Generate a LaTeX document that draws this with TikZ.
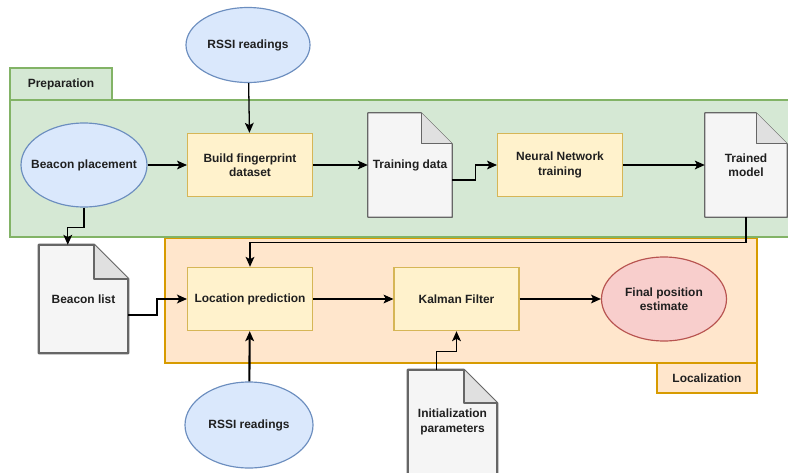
\documentclass[tikz,border=0pt]{standalone}
\usepackage{fontspec}
\setmainfont{Liberation Sans}
\usepackage{tikz}
\usetikzlibrary{shapes.geometric, arrows.meta, positioning, backgrounds}
\definecolor{prepfill}{RGB}{213, 232, 212}
\definecolor{prepline}{RGB}{130, 179, 102}
\definecolor{locfill}{RGB}{255, 230, 204}
\definecolor{locline}{RGB}{215, 155, 0}
\definecolor{procfill}{RGB}{255, 242, 204}
\definecolor{procline}{RGB}{214, 182, 86}
\definecolor{inputfill}{RGB}{218, 232, 252}
\definecolor{inputline}{RGB}{108, 142, 191}
\definecolor{resultfill}{RGB}{248, 206, 204}
\definecolor{resultline}{RGB}{184, 84, 80}
\definecolor{docfill}{RGB}{245, 245, 245}
\definecolor{docline}{RGB}{102, 102, 102}
\definecolor{foldfill}{RGB}{224, 224, 224}
\pgfdeclarelayer{docs}
\pgfsetlayers{background,docs,main}
% outline of a document node: name, fold size, line width
\newcommand{\docoutline}[3]{%
    \begin{pgfonlayer}{docs}
    \filldraw[fill=docfill, draw=docline, line width=#3, line join=round]
        (#1.north west) -- ([xshift=-#2]#1.north east) -- ([yshift=-#2]#1.north east)
        -- (#1.south east) -- (#1.south west) -- cycle;
    \filldraw[fill=foldfill, draw=docline, line width=#3, line join=round]
        ([xshift=-#2]#1.north east) -- ([xshift=-#2,yshift=-#2]#1.north east) -- ([yshift=-#2]#1.north east);
    \end{pgfonlayer}}

\begin{document}
\begin{tikzpicture}[
    x=0.03cm, y=-0.03cm,
    every node/.style={font=\fontsize{10.2}{12.2}\selectfont\bfseries, text=black!88, align=center},
    procbox/.style={draw=procline, fill=procfill, line width=0.9pt, minimum width=3.75cm, minimum height=1.9cm, inner sep=0pt},
    inputell/.style={draw=inputline, fill=inputfill, ellipse, line width=1pt, inner xsep=-0.45cm, inner ysep=0pt},
    resultell/.style={draw=resultline, fill=resultfill, ellipse, line width=1pt, inner sep=0pt, minimum width=3.75cm, minimum height=2.52cm},
    docnode/.style={draw=none, inner sep=0pt},
    conn/.style={-{Stealth[length=8.5pt, width=7.5pt, inset=2pt]}, line width=1.1pt, black},
    thickconn/.style={conn, line width=1.8pt},
    groupframe/.style={line width=1.2pt}
]
    \useasboundingbox (0,0) rectangle (788,472);

    % Containers
    \begin{scope}[on background layer]
        \filldraw[groupframe, fill=locfill, draw=locline] (165,238) rectangle (757,363);
        \filldraw[groupframe, fill=locfill, draw=locline] (657,363) rectangle (757,393);
        \filldraw[groupframe, fill=prepfill, draw=prepline] (10,100) rectangle (792,237);
        \filldraw[groupframe, fill=prepfill, draw=prepline] (10,68) rectangle (112,100);
    \end{scope}
    \node (preplabel) at (61,84) {Preparation};
    \node (loclabel) at (707,378) {Localization};

    % Preparation
    \node[inputell, minimum width=3.72cm, minimum height=2.25cm] (rssitop) at (248,45) {RSSI readings};
    \node[inputell, minimum width=3.78cm, minimum height=2.52cm] (beacon) at (84,165) {Beacon placement};
    \node[procbox] (build) at (250,165) {Build fingerprint\\dataset};
    \node[docnode, minimum width=2.52cm, minimum height=3.12cm] (train) at (410,165) {Training data};
    \node[procbox] (nn) at (560,165) {Neural Network\\training};
    \node[docnode, minimum width=2.46cm, minimum height=3.12cm] (trained) at (746,165) {Trained\\model};

    % Localization
    \node[docnode, minimum width=2.67cm, minimum height=3.24cm] (blist) at (83.5,299) {Beacon list};
    \node[procbox] (locpred) at (250,299) {Location prediction};
    \node[procbox] (kalman) at (456.5,299) {Kalman Filter};
    \node[resultell] (final) at (664,299) {Final position\\estimate};
    \node[inputell, minimum width=3.84cm, minimum height=2.58cm] (rssibot) at (249,425) {RSSI readings};
    \node[docnode, minimum width=2.67cm, minimum height=3.12cm] (init) at (452.5,422) {Initialization\\parameters};

    \docoutline{train}{0.93cm}{0.9pt}
    \docoutline{trained}{0.93cm}{0.9pt}
    \docoutline{blist}{1.02cm}{1.8pt}
    \docoutline{init}{1.0cm}{1.8pt}

    % Connections
    \draw[conn] (rssitop) -- (build);
    \draw[conn] (beacon) -- (build);
    \draw[conn] (build) -- (train);
    \draw[conn] ([yshift=-0.45cm]train.east) -- ++(23,0) |- (nn.west);
    \draw[conn] (nn) -- (trained);
    \draw[conn] (trained.south) -- ++(0,25) -| (locpred.north);
    \draw[conn] (beacon.south) -- ++(0,20) -| ([xshift=0.87cm]blist.north west);
    \draw[thickconn] ([yshift=-0.48cm]blist.east) -- ++(29,0) |- (locpred.west);
    \draw[thickconn] (rssibot) -- (locpred);
    \draw[conn] (locpred) -- (kalman);
    \draw[conn] ([xshift=0.87cm]init.north west) -- ++(0,-18) -| (kalman.south);
    \draw[conn] (kalman) -- (final);
\end{tikzpicture}
\end{document}
